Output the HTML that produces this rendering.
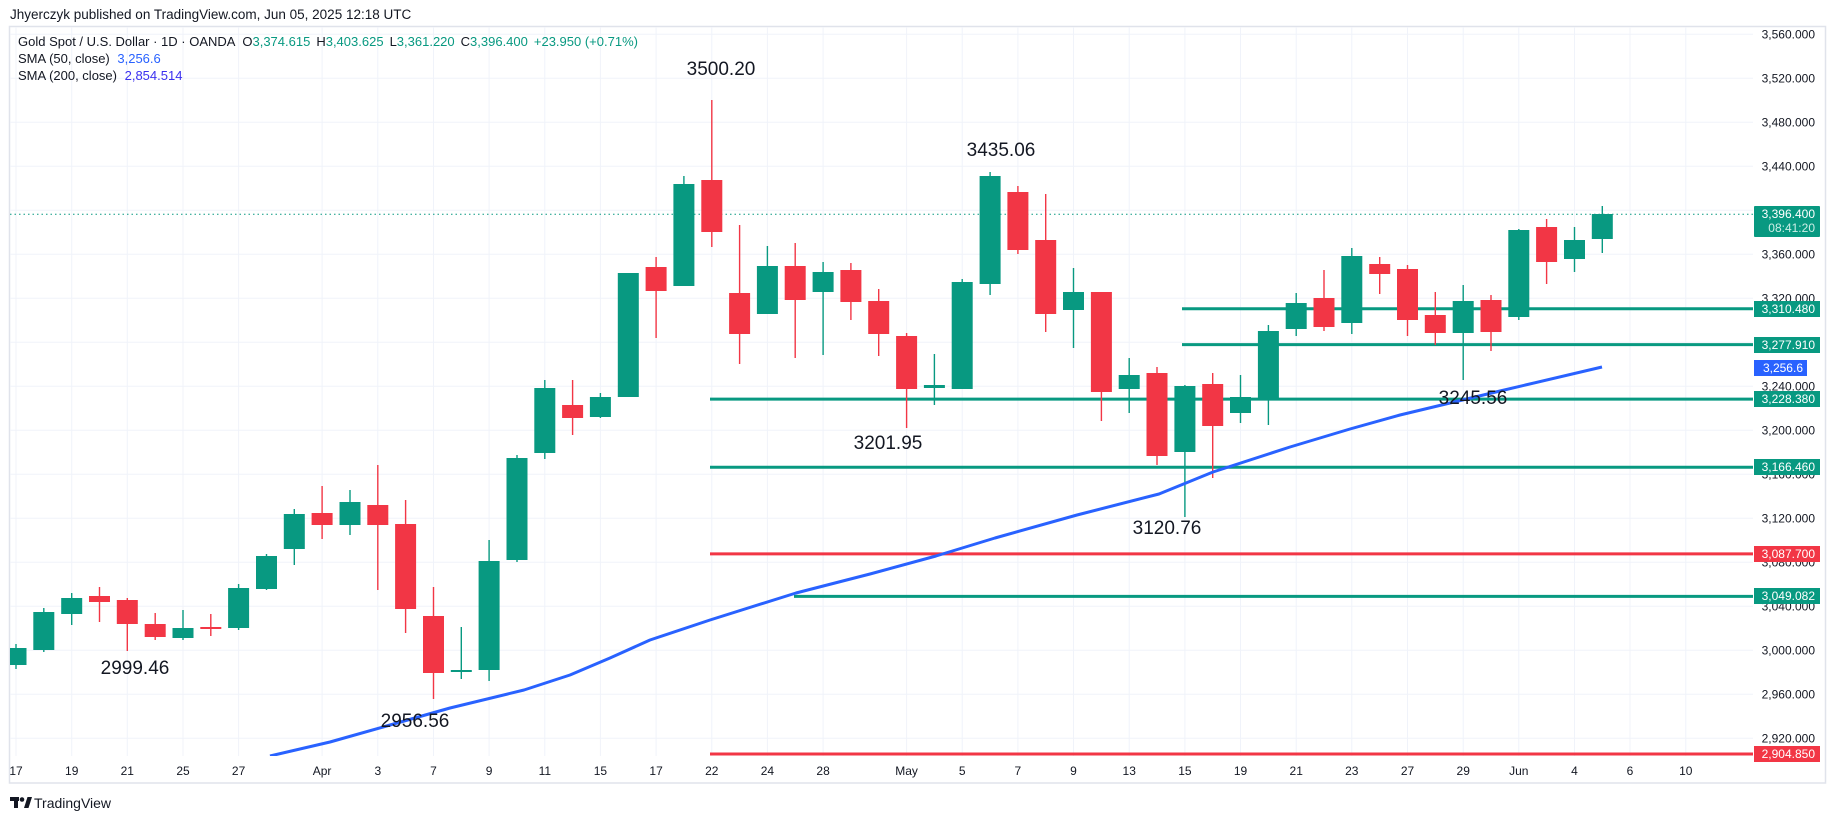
<!DOCTYPE html>
<html><head><meta charset="utf-8"><style>
html,body{margin:0;padding:0;background:#fff;width:1835px;height:820px;overflow:hidden}
svg{display:block}
text{font-family:"Liberation Sans",sans-serif}
</style></head><body>
<svg width="1835" height="820" viewBox="0 0 1835 820" xmlns="http://www.w3.org/2000/svg">
<rect width="1835" height="820" fill="#fff"/>
<text x="10" y="19" font-size="13.5" fill="#131722">Jhyerczyk published on TradingView.com, Jun 05, 2025 12:18 UTC</text>
<rect x="9.5" y="26.5" width="1816" height="756.5" fill="none" stroke="#e0e3eb" stroke-width="1.5"/>
<defs><clipPath id="pc"><rect x="10" y="27" width="1743" height="729"/></clipPath></defs>
<g stroke="#f0f3fa" stroke-width="1">
<line x1="10" x2="1753" y1="34.3" y2="34.3"/><line x1="10" x2="1753" y1="78.3" y2="78.3"/><line x1="10" x2="1753" y1="122.3" y2="122.3"/><line x1="10" x2="1753" y1="166.3" y2="166.3"/><line x1="10" x2="1753" y1="210.3" y2="210.3"/><line x1="10" x2="1753" y1="254.3" y2="254.3"/><line x1="10" x2="1753" y1="298.3" y2="298.3"/><line x1="10" x2="1753" y1="342.3" y2="342.3"/><line x1="10" x2="1753" y1="386.3" y2="386.3"/><line x1="10" x2="1753" y1="430.3" y2="430.3"/><line x1="10" x2="1753" y1="474.3" y2="474.3"/><line x1="10" x2="1753" y1="518.3" y2="518.3"/><line x1="10" x2="1753" y1="562.3" y2="562.3"/><line x1="10" x2="1753" y1="606.3" y2="606.3"/><line x1="10" x2="1753" y1="650.3" y2="650.3"/><line x1="10" x2="1753" y1="694.3" y2="694.3"/><line x1="10" x2="1753" y1="738.3" y2="738.3"/>
<line x1="16" x2="16" y1="27" y2="756"/><line x1="71.7" x2="71.7" y1="27" y2="756"/><line x1="127.3" x2="127.3" y1="27" y2="756"/><line x1="183" x2="183" y1="27" y2="756"/><line x1="238.6" x2="238.6" y1="27" y2="756"/><line x1="322.1" x2="322.1" y1="27" y2="756"/><line x1="377.8" x2="377.8" y1="27" y2="756"/><line x1="433.5" x2="433.5" y1="27" y2="756"/><line x1="489.1" x2="489.1" y1="27" y2="756"/><line x1="544.8" x2="544.8" y1="27" y2="756"/><line x1="600.4" x2="600.4" y1="27" y2="756"/><line x1="656.1" x2="656.1" y1="27" y2="756"/><line x1="711.8" x2="711.8" y1="27" y2="756"/><line x1="767.4" x2="767.4" y1="27" y2="756"/><line x1="823.1" x2="823.1" y1="27" y2="756"/><line x1="906.6" x2="906.6" y1="27" y2="756"/><line x1="962.2" x2="962.2" y1="27" y2="756"/><line x1="1017.9" x2="1017.9" y1="27" y2="756"/><line x1="1073.5" x2="1073.5" y1="27" y2="756"/><line x1="1129.2" x2="1129.2" y1="27" y2="756"/><line x1="1184.9" x2="1184.9" y1="27" y2="756"/><line x1="1240.5" x2="1240.5" y1="27" y2="756"/><line x1="1296.2" x2="1296.2" y1="27" y2="756"/><line x1="1351.8" x2="1351.8" y1="27" y2="756"/><line x1="1407.5" x2="1407.5" y1="27" y2="756"/><line x1="1463.2" x2="1463.2" y1="27" y2="756"/><line x1="1518.8" x2="1518.8" y1="27" y2="756"/><line x1="1574.5" x2="1574.5" y1="27" y2="756"/><line x1="1630" x2="1630" y1="27" y2="756"/><line x1="1685.8" x2="1685.8" y1="27" y2="756"/>
</g>
<g font-size="13" fill="#131722">
<text x="18" y="46">Gold Spot / U.S. Dollar · 1D · OANDA <tspan dx="4">O</tspan><tspan fill="#089981">3,374.615</tspan><tspan dx="6">H</tspan><tspan fill="#089981">3,403.625</tspan><tspan dx="6">L</tspan><tspan fill="#089981">3,361.220</tspan><tspan dx="6">C</tspan><tspan fill="#089981">3,396.400</tspan><tspan dx="6" fill="#089981">+23.950 (+0.71%)</tspan></text>
<text x="18" y="63">SMA (50, close) <tspan dx="4" fill="#2962ff">3,256.6</tspan></text>
<text x="18" y="80">SMA (200, close) <tspan dx="4" fill="#3b30f0">2,854.514</tspan></text>
</g>
<g clip-path="url(#pc)">
<line x1="10" x2="1753" y1="214.3" y2="214.3" stroke="#089981" stroke-width="1" stroke-dasharray="1.5,3"/>
<g stroke-width="3">
<line x1="1182" x2="1753" y1="308.8" y2="308.8" stroke="#089981"/>
<line x1="1182" x2="1753" y1="344.6" y2="344.6" stroke="#089981"/>
<line x1="710" x2="1753" y1="399.1" y2="399.1" stroke="#089981"/>
<line x1="710" x2="1753" y1="467.2" y2="467.2" stroke="#089981"/>
<line x1="710" x2="1753" y1="553.9" y2="553.9" stroke="#f23645"/>
<line x1="794" x2="1753" y1="596.4" y2="596.4" stroke="#089981"/>
<line x1="710" x2="1753" y1="754" y2="754" stroke="#f23645"/>
</g>
<g id="candles">
<g fill="#089981" stroke="#089981" stroke-width="1.4">
<line x1="16" x2="16" y1="644" y2="669"/><rect x="5.5" y="648" width="21" height="17" stroke="none"/>
<line x1="43.8" x2="43.8" y1="608" y2="652"/><rect x="33.3" y="612" width="21" height="38" stroke="none"/>
<line x1="71.7" x2="71.7" y1="593" y2="625"/><rect x="61.2" y="598" width="21" height="16" stroke="none"/>
<line x1="183" x2="183" y1="610" y2="640"/><rect x="172.5" y="628" width="21" height="10" stroke="none"/>
<line x1="238.6" x2="238.6" y1="584" y2="630"/><rect x="228.1" y="588" width="21" height="40" stroke="none"/>
<line x1="266.5" x2="266.5" y1="554" y2="590"/><rect x="256" y="556" width="21" height="33" stroke="none"/>
<line x1="294.3" x2="294.3" y1="509" y2="565"/><rect x="283.8" y="514" width="21" height="35" stroke="none"/>
<line x1="350" x2="350" y1="490" y2="535"/><rect x="339.5" y="502" width="21" height="23" stroke="none"/>
<line x1="461.3" x2="461.3" y1="627" y2="679"/><rect x="450.8" y="670" width="21" height="2" stroke="none"/>
<line x1="489.1" x2="489.1" y1="540" y2="681"/><rect x="478.6" y="561" width="21" height="109" stroke="none"/>
<line x1="517" x2="517" y1="455" y2="562"/><rect x="506.5" y="458" width="21" height="102" stroke="none"/>
<line x1="544.8" x2="544.8" y1="380" y2="459"/><rect x="534.3" y="388" width="21" height="65" stroke="none"/>
<line x1="600.4" x2="600.4" y1="393" y2="418"/><rect x="589.9" y="397" width="21" height="20" stroke="none"/>
<rect x="617.8" y="273" width="21" height="124" stroke="none"/>
<line x1="683.9" x2="683.9" y1="176" y2="286"/><rect x="673.4" y="184" width="21" height="102" stroke="none"/>
<line x1="767.4" x2="767.4" y1="246" y2="314"/><rect x="756.9" y="266" width="21" height="48" stroke="none"/>
<line x1="823.1" x2="823.1" y1="262" y2="355"/><rect x="812.6" y="272" width="21" height="20" stroke="none"/>
<line x1="934.4" x2="934.4" y1="354" y2="405"/><rect x="923.9" y="385" width="21" height="3" stroke="none"/>
<line x1="962.2" x2="962.2" y1="279" y2="389"/><rect x="951.7" y="282" width="21" height="107" stroke="none"/>
<line x1="990.1" x2="990.1" y1="172" y2="295"/><rect x="979.6" y="176" width="21" height="108" stroke="none"/>
<line x1="1073.5" x2="1073.5" y1="268" y2="348"/><rect x="1063" y="292" width="21" height="18" stroke="none"/>
<line x1="1129.2" x2="1129.2" y1="358" y2="413"/><rect x="1118.7" y="375" width="21" height="14" stroke="none"/>
<line x1="1184.9" x2="1184.9" y1="385" y2="517"/><rect x="1174.4" y="386" width="21" height="66" stroke="none"/>
<line x1="1240.5" x2="1240.5" y1="375" y2="423"/><rect x="1230" y="397" width="21" height="16" stroke="none"/>
<line x1="1268.4" x2="1268.4" y1="325" y2="425"/><rect x="1257.9" y="331" width="21" height="69" stroke="none"/>
<line x1="1296.2" x2="1296.2" y1="293" y2="336"/><rect x="1285.7" y="303" width="21" height="26" stroke="none"/>
<line x1="1351.8" x2="1351.8" y1="248" y2="334"/><rect x="1341.3" y="256" width="21" height="67" stroke="none"/>
<line x1="1463.2" x2="1463.2" y1="285" y2="380"/><rect x="1452.7" y="301" width="21" height="32" stroke="none"/>
<line x1="1518.8" x2="1518.8" y1="229" y2="320"/><rect x="1508.3" y="230" width="21" height="87" stroke="none"/>
<line x1="1574.5" x2="1574.5" y1="227" y2="272"/><rect x="1564" y="240" width="21" height="19" stroke="none"/>
<line x1="1602.3" x2="1602.3" y1="206" y2="253"/><rect x="1591.8" y="214" width="21" height="25" stroke="none"/>
</g>
<g fill="#f23645" stroke="#f23645" stroke-width="1.4">
<line x1="99.5" x2="99.5" y1="587" y2="622"/><rect x="89" y="596" width="21" height="6" stroke="none"/>
<line x1="127.3" x2="127.3" y1="598" y2="651"/><rect x="116.8" y="600" width="21" height="24" stroke="none"/>
<line x1="155.2" x2="155.2" y1="613" y2="640"/><rect x="144.7" y="624" width="21" height="13" stroke="none"/>
<line x1="210.8" x2="210.8" y1="614" y2="636"/><rect x="200.3" y="627" width="21" height="2" stroke="none"/>
<line x1="322.1" x2="322.1" y1="486" y2="539"/><rect x="311.6" y="513" width="21" height="12" stroke="none"/>
<line x1="377.8" x2="377.8" y1="465" y2="590"/><rect x="367.3" y="505" width="21" height="20" stroke="none"/>
<line x1="405.6" x2="405.6" y1="500" y2="633"/><rect x="395.1" y="524" width="21" height="85" stroke="none"/>
<line x1="433.5" x2="433.5" y1="587" y2="699"/><rect x="423" y="616" width="21" height="57" stroke="none"/>
<line x1="572.6" x2="572.6" y1="380" y2="435"/><rect x="562.1" y="405" width="21" height="13" stroke="none"/>
<line x1="656.1" x2="656.1" y1="257" y2="338"/><rect x="645.6" y="267" width="21" height="24" stroke="none"/>
<line x1="711.8" x2="711.8" y1="100" y2="247"/><rect x="701.3" y="180" width="21" height="52" stroke="none"/>
<line x1="739.6" x2="739.6" y1="225" y2="364"/><rect x="729.1" y="293" width="21" height="41" stroke="none"/>
<line x1="795.2" x2="795.2" y1="243" y2="358"/><rect x="784.7" y="266" width="21" height="34" stroke="none"/>
<line x1="850.9" x2="850.9" y1="263" y2="320"/><rect x="840.4" y="270" width="21" height="32" stroke="none"/>
<line x1="878.7" x2="878.7" y1="289" y2="356"/><rect x="868.2" y="301" width="21" height="33" stroke="none"/>
<line x1="906.6" x2="906.6" y1="333" y2="428"/><rect x="896.1" y="336" width="21" height="53" stroke="none"/>
<line x1="1017.9" x2="1017.9" y1="186" y2="254"/><rect x="1007.4" y="192" width="21" height="58" stroke="none"/>
<line x1="1045.7" x2="1045.7" y1="194" y2="332"/><rect x="1035.2" y="240" width="21" height="74" stroke="none"/>
<line x1="1101.4" x2="1101.4" y1="292" y2="421"/><rect x="1090.9" y="292" width="21" height="100" stroke="none"/>
<line x1="1157" x2="1157" y1="367" y2="465"/><rect x="1146.5" y="373" width="21" height="83" stroke="none"/>
<line x1="1212.7" x2="1212.7" y1="373" y2="478"/><rect x="1202.2" y="384" width="21" height="42" stroke="none"/>
<line x1="1324" x2="1324" y1="270" y2="331"/><rect x="1313.5" y="298" width="21" height="29" stroke="none"/>
<line x1="1379.7" x2="1379.7" y1="257" y2="294"/><rect x="1369.2" y="264" width="21" height="10" stroke="none"/>
<line x1="1407.5" x2="1407.5" y1="265" y2="336"/><rect x="1397" y="269" width="21" height="51" stroke="none"/>
<line x1="1435.3" x2="1435.3" y1="292" y2="345"/><rect x="1424.8" y="315" width="21" height="18" stroke="none"/>
<line x1="1491" x2="1491" y1="295" y2="351"/><rect x="1480.5" y="300" width="21" height="32" stroke="none"/>
<line x1="1546.6" x2="1546.6" y1="219" y2="284"/><rect x="1536.1" y="227" width="21" height="35" stroke="none"/>
</g>
</g>
<polyline fill="none" stroke="#2962ff" stroke-width="3" stroke-linejoin="round" points="270,756 330,742 383,727 450,708 524,690 570,675 610,658 650,640 710,620 796,593 870,574 936,556 995,538 1077,515 1159,494 1213,472 1290,447 1350,429 1400,415 1500,391 1602,367"/>
</g>
<g font-size="19" fill="#131722" text-anchor="middle">
<text x="721" y="75">3500.20</text>
<text x="1001" y="156">3435.06</text>
<text x="888" y="449">3201.95</text>
<text x="1167" y="534">3120.76</text>
<text x="1473" y="404">3245.56</text>
<text x="135" y="674">2999.46</text>
<text x="415" y="727">2956.56</text>
</g>
<g font-size="12" fill="#131722" text-anchor="end">
<text x="1815" y="38.5">3,560.000</text><text x="1815" y="82.5">3,520.000</text><text x="1815" y="126.5">3,480.000</text><text x="1815" y="170.5">3,440.000</text><text x="1815" y="258.5">3,360.000</text><text x="1815" y="302.5">3,320.000</text><text x="1815" y="390.5">3,240.000</text><text x="1815" y="434.5">3,200.000</text><text x="1815" y="478.5">3,160.000</text><text x="1815" y="522.5">3,120.000</text><text x="1815" y="566.5">3,080.000</text><text x="1815" y="610.5">3,040.000</text><text x="1815" y="654.5">3,000.000</text><text x="1815" y="698.5">2,960.000</text><text x="1815" y="742.5">2,920.000</text>
</g>
<g font-size="12" fill="#fff" text-anchor="end">
<rect x="1754" y="206" width="66" height="31" fill="#089981" rx="1"/>
<text x="1815" y="218">3,396.400</text><text x="1815" y="232" fill="#cdeee6">08:41:20</text>
<rect x="1754" y="301" width="66" height="16" fill="#089981"/><text x="1815" y="313">3,310.480</text>
<rect x="1754" y="337" width="66" height="16" fill="#089981"/><text x="1815" y="349">3,277.910</text>
<rect x="1754" y="360" width="53" height="16" fill="#2962ff"/><text x="1803" y="372">3,256.6</text>
<rect x="1754" y="391" width="66" height="16" fill="#089981"/><text x="1815" y="403">3,228.380</text>
<rect x="1754" y="459" width="66" height="16" fill="#089981"/><text x="1815" y="471">3,166.460</text>
<rect x="1754" y="546" width="66" height="16" fill="#f23645"/><text x="1815" y="558">3,087.700</text>
<rect x="1754" y="588" width="66" height="16" fill="#089981"/><text x="1815" y="600">3,049.082</text>
<rect x="1754" y="746" width="66" height="16" fill="#f23645"/><text x="1815" y="758">2,904.850</text>
</g>
<g font-size="12" fill="#131722" text-anchor="middle">
<text x="16" y="775">17</text><text x="71.7" y="775">19</text><text x="127.3" y="775">21</text><text x="183" y="775">25</text><text x="238.6" y="775">27</text><text x="322.1" y="775">Apr</text><text x="377.8" y="775">3</text><text x="433.5" y="775">7</text><text x="489.1" y="775">9</text><text x="544.8" y="775">11</text><text x="600.4" y="775">15</text><text x="656.1" y="775">17</text><text x="711.8" y="775">22</text><text x="767.4" y="775">24</text><text x="823.1" y="775">28</text><text x="906.6" y="775">May</text><text x="962.2" y="775">5</text><text x="1017.9" y="775">7</text><text x="1073.5" y="775">9</text><text x="1129.2" y="775">13</text><text x="1184.9" y="775">15</text><text x="1240.5" y="775">19</text><text x="1296.2" y="775">21</text><text x="1351.8" y="775">23</text><text x="1407.5" y="775">27</text><text x="1463.2" y="775">29</text><text x="1518.8" y="775">Jun</text><text x="1574.5" y="775">4</text><text x="1630" y="775">6</text><text x="1685.8" y="775">10</text>
</g>
<g fill="#131722">
<rect x="10" y="797" width="9" height="4"/><rect x="14" y="797" width="4" height="11"/><circle cx="22" cy="799.5" r="2.3"/><polygon points="24,808 27.5,797 32,797 28.5,808"/>
<text x="34" y="808" font-size="14">TradingView</text>
</g>
</svg>
</body></html>
